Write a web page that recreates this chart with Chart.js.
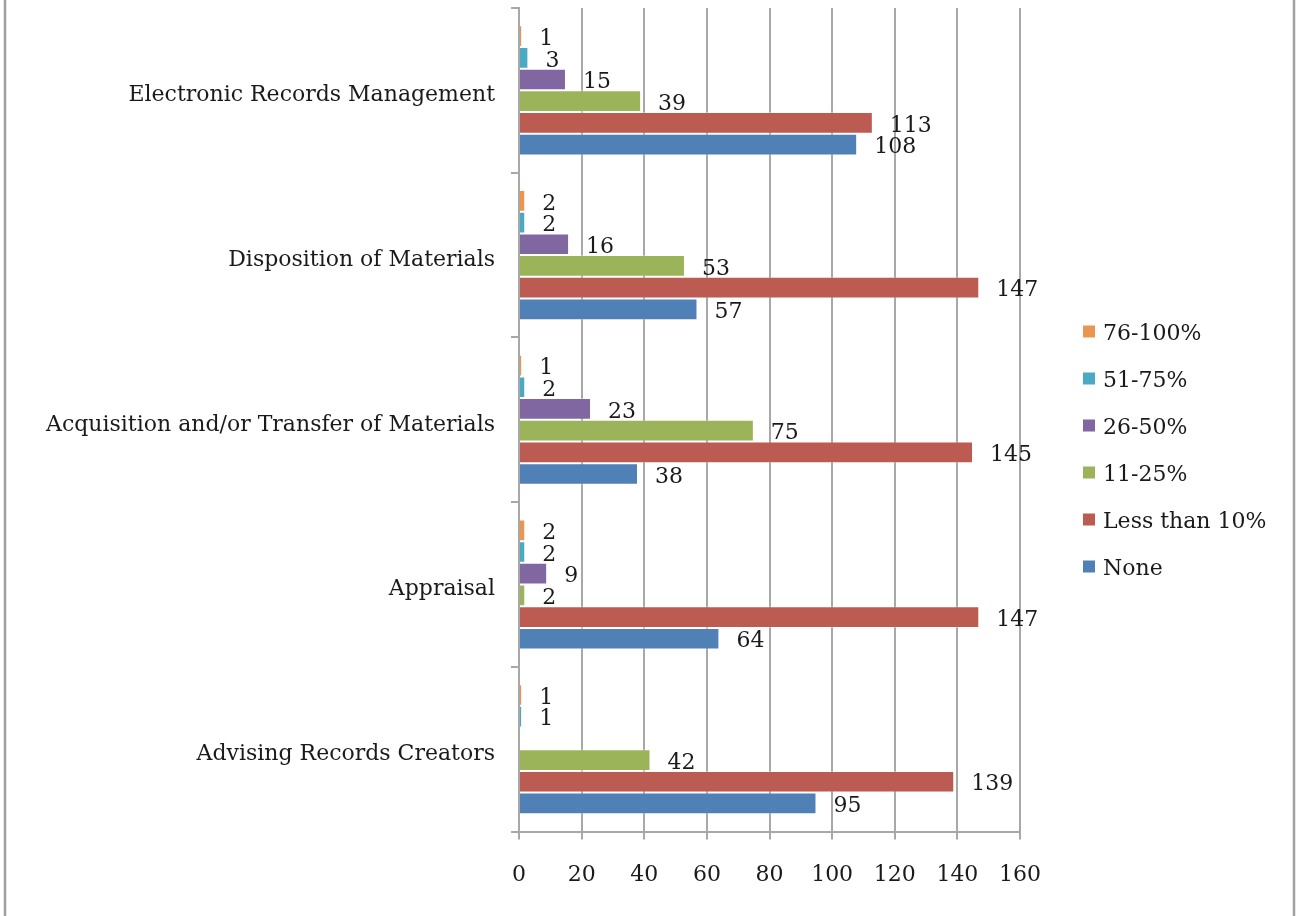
<!DOCTYPE html>
<html>
<head>
<meta charset="utf-8">
<script src="https://cdn.jsdelivr.net/npm/chart.js@4.4.1/dist/chart.umd.min.js"></script>
<style>
  html, body { margin: 0; padding: 0; background: #fff; }
</style>
</head>
<body>
<canvas id="myChart" width="1301" height="916"></canvas>
<script>
const categories = [
  "Electronic Records Management",
  "Disposition of Materials",
  "Acquisition and/or Transfer of Materials",
  "Appraisal",
  "Advising Records Creators",
];
const seriesNames = ["76-100%", "51-75%", "26-50%", "11-25%", "Less than 10%", "None"];
const seriesColors = ["#EC954E", "#4BAAC3", "#8167A1", "#9BB45A", "#BB5B51", "#4F80B6"];

const v76to100 = [1, 2, 1, 2, 1];
const v51to75 = [3, 2, 2, 2, 1];
const v26to50 = [15, 16, 23, 9, null];
const v11to25 = [39, 53, 75, 2, 42];
const vLessThan10 = [113, 147, 145, 147, 139];
const vNone = [108, 57, 38, 64, 95];
const seriesValues = [v76to100, v51to75, v26to50, v11to25, vLessThan10, vNone];

const xMin = 0;
const xMax = 160;
const xStep = 20;

const FONT = '"DejaVu Serif", serif';
const GRID = "#a8a8a8";

// value labels to the right of each bar
const barValueLabels = {
  id: "barValueLabels",
  afterDatasetsDraw(chart) {
    const ctx = chart.ctx;
    ctx.save();
    ctx.font = "22px " + FONT;
    ctx.fillStyle = "#1a1a1a";
    ctx.textAlign = "left";
    ctx.textBaseline = "middle";
    chart.data.datasets.forEach((ds, i) => {
      chart.getDatasetMeta(i).data.forEach((bar, j) => {
        const v = ds.data[j];
        if (v === null || v === undefined) return;
        ctx.fillText(String(v), bar.x + 17, bar.y + 3);
      });
    });
    ctx.restore();
  },
};

// legend drawn beside the plot, same order as datasets
const sideLegend = {
  id: "sideLegend",
  afterDraw(chart) {
    const ctx = chart.ctx;
    const left = chart.chartArea.right + 63;
    const gap = 47;
    const n = chart.data.datasets.length;
    let y = chart.height / 2 - 9 - ((n - 1) * gap) / 2;
    ctx.save();
    ctx.font = "22px " + FONT;
    ctx.textBaseline = "middle";
    ctx.textAlign = "left";
    chart.data.datasets.forEach((ds) => {
      ctx.fillStyle = ds.backgroundColor;
      ctx.fillRect(left, y - 6, 12, 12);
      ctx.fillStyle = "#1a1a1a";
      ctx.fillText(ds.label, left + 20, y + 3);
      y += gap;
    });
    ctx.restore();
  },
};

// thin frame lines at the sides of the picture
const sideFrame = {
  id: "sideFrame",
  beforeDraw(chart) {
    const ctx = chart.ctx;
    ctx.save();
    ctx.strokeStyle = "#a0a0a0";
    ctx.lineWidth = 2.5;
    ctx.beginPath();
    ctx.moveTo(5, 0);
    ctx.lineTo(5, chart.height);
    ctx.moveTo(1294, 0);
    ctx.lineTo(1294, chart.height);
    ctx.stroke();
    ctx.restore();
  },
};

const datasets = seriesNames.map((name, i) => ({
  label: name,
  data: seriesValues[i],
  backgroundColor: seriesColors[i],
  borderColor: "rgba(255,255,255,0.35)",
  borderWidth: 1,
  categoryPercentage: 0.79,
  barPercentage: 1.0,
}));

const ctx = document.getElementById("myChart").getContext("2d");
new Chart(ctx, {
  type: "bar",
  data: { labels: categories, datasets: datasets },
  plugins: [sideFrame, barValueLabels, sideLegend],
  options: {
    indexAxis: "y",
    responsive: false,
    animation: false,
    layout: { padding: { top: 8, right: 281, bottom: 6, left: 0 } },
    plugins: {
      legend: { display: false },
      tooltip: { enabled: false },
    },
    scales: {
      x: {
        min: xMin,
        max: xMax,
        ticks: {
          stepSize: xStep,
          padding: 22,
          color: "#1a1a1a",
          font: { family: FONT, size: 22 },
        },
        grid: { color: GRID, lineWidth: 2, tickLength: 8, drawTicks: true },
        border: { color: GRID, width: 2 },
      },
      y: {
        ticks: {
          padding: 16,
          labelOffset: 5,
          color: "#1a1a1a",
          font: { family: FONT, size: 22 },
        },
        grid: {
          offset: true,
          drawOnChartArea: false,
          drawTicks: true,
          tickLength: 8,
          color: GRID,
          lineWidth: 2,
        },
        border: { color: GRID, width: 2 },
        afterFit(scale) {
          scale.width = 519;
          scale.paddingTop = 0;
          scale.paddingBottom = 0;
        },
      },
    },
  },
});
</script>
</body>
</html>
